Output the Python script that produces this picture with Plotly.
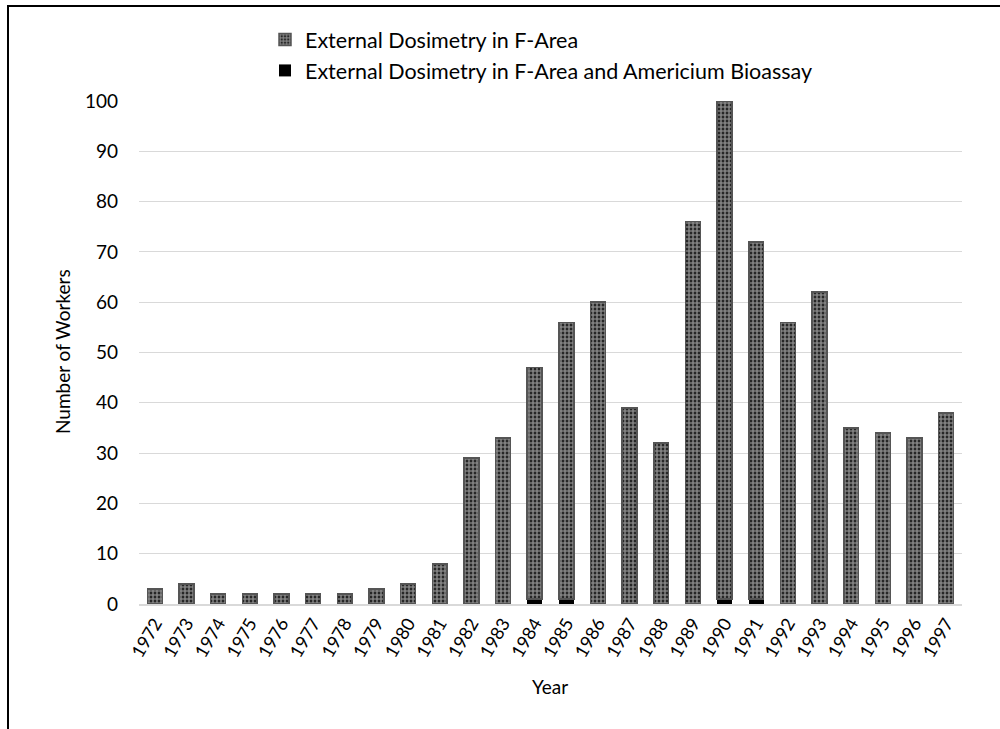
import plotly.graph_objects as go

years = [str(y) for y in range(1972, 1998)]
ext_fa = [3, 4, 2, 2, 2, 2, 2, 3, 4, 8, 29, 33, 46, 55, 60, 39, 32, 76, 99, 71, 56, 62, 35, 34, 33, 38]
ext_fa_am = [0, 0, 0, 0, 0, 0, 0, 0, 0, 0, 0, 0, 1, 1, 0, 0, 0, 0, 1, 1, 0, 0, 0, 0, 0, 0]
y_ticks = list(range(0, 101, 10))

FONT = "Lato"
W, H = 1000, 729
L, R, T, B = 139, 38, 101, 125
PW, PH = W - L - R, H - T - B

fig = go.Figure()
fig.add_trace(go.Bar(
    x=years, y=ext_fa_am, name="External Dosimetry in F-Area and Americium Bioassay",
    marker=dict(color="black", line=dict(width=0)),
    legendrank=2,
))
fig.add_trace(go.Bar(
    x=years, y=ext_fa, name="External Dosimetry in F-Area",
    marker=dict(color="black",
                pattern=dict(shape=".", fgcolor="white", bgcolor="black", size=4, solidity=0.75),
                line=dict(color="#555555", width=1.5)),
    legendrank=1,
))

fig.update_layout(
    width=W, height=H,
    barmode="stack", bargap=0.53,
    plot_bgcolor="white", paper_bgcolor="white",
    margin=dict(l=L, r=R, t=T, b=B, autoexpand=False),
    font=dict(family=FONT, size=19, color="black"),
    legend=dict(x=0.265, y=1 - 19 / H, xref="container", yref="container",
                xanchor="left", yanchor="top", traceorder="normal",
                font=dict(size=21.5), itemwidth=30, tracegroupgap=0,
                bgcolor="rgba(0,0,0,0)"),
    xaxis=dict(tickangle=-60, showline=True, linecolor="#d9d9d9", linewidth=1.5,
               showgrid=False, ticks="", tickfont=dict(size=18), automargin=False),
    yaxis=dict(range=[0, 100], tickvals=y_ticks, showgrid=True, gridcolor="#d9d9d9",
               zeroline=False, ticks="", tickfont=dict(size=19),
               ticklabelstandoff=20, automargin=False),
    annotations=[
        dict(text="Year", xref="paper", yref="paper", x=(550 - L) / PW, y=-(686 - (T + PH)) / PH,
             showarrow=False, font=dict(size=19), xanchor="center", yanchor="middle"),
        dict(text="Number of Workers", xref="paper", yref="paper", x=(62 - L) / PW,
             y=((T + PH) - 352) / PH, textangle=-90,
             showarrow=False, font=dict(size=19), xanchor="center", yanchor="middle"),
    ],
    shapes=[dict(type="rect", xref="paper", yref="paper",
                 x0=(8 - L) / PW, x1=(1010 - L) / PW,
                 y0=((T + PH) - 740) / PH, y1=((T + PH) - 6) / PH,
                 line=dict(color="black", width=2), fillcolor="rgba(0,0,0,0)", layer="below")],
)

fig.write_html("out.html", config={"displayModeBar": False},
               post_script="document.body.style.margin='0px';")
